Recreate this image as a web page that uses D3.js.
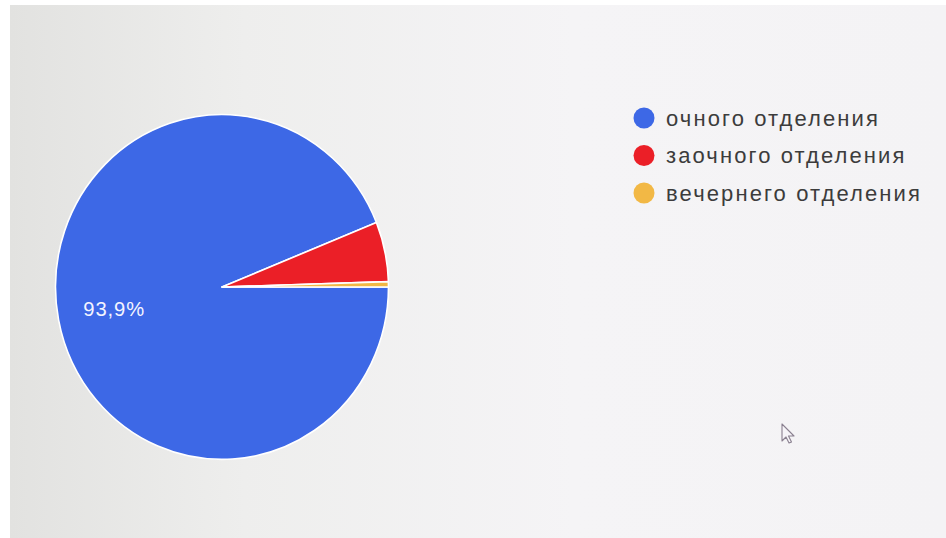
<!DOCTYPE html>
<html><head><meta charset="utf-8">
<script src="https://cdn.jsdelivr.net/npm/d3@7"></script>
<style>html,body{margin:0;padding:0;background:#fff;}svg{display:block;}</style>
</head><body>
<svg id="c" width="946" height="538"></svg>
<script>
const categories = ["очного отделения", "заочного отделения", "вечернего отделения"];
const values = [93.9, 5.6, 0.5];
const colors = ["#3d68e6", "#eb1f27", "#f2b845"];
const labelTexts = ["93,9%", "", ""];

const svg = d3.select("#c");
const W = 946, H = 538;
const defs = svg.append("defs");
const g1 = defs.append("linearGradient").attr("id","bg").attr("x1","0").attr("x2","1").attr("y1","0").attr("y2","0");
g1.append("stop").attr("offset","0").attr("stop-color","#e2e2e0");
g1.append("stop").attr("offset","0.25").attr("stop-color","#eeeeed");
g1.append("stop").attr("offset","0.6").attr("stop-color","#f5f4f6");
g1.append("stop").attr("offset","1").attr("stop-color","#f4f3f5");
svg.append("rect").attr("width",W).attr("height",H).attr("fill","#fff");
svg.append("rect").attr("x",10).attr("y",5).attr("width",W-10).attr("height",H-5).attr("fill","url(#bg)");

const cx = 222, cy = 287, r = 169;
const pie = d3.pie().sort(null).value(d => d)
  .startAngle(Math.PI/2).endAngle(Math.PI/2 + 2*Math.PI);
const arcs = pie(values);
const arc = d3.arc().innerRadius(0).outerRadius(r);
const labelArc = d3.arc().innerRadius(r*0.66).outerRadius(r*0.66);
const gp = svg.append("g").attr("transform",`translate(${cx},${cy}) scale(0.985,1.02)`);
gp.selectAll("path").data(arcs).join("path")
  .attr("d", arc).attr("fill",(d,i)=>colors[i])
  .attr("stroke","#fff").attr("stroke-width",1.6).attr("stroke-linejoin","round");
gp.selectAll("text").data(arcs).join("text")
  .attr("transform", d => `translate(${labelArc.centroid(d)})`)
  .attr("text-anchor","middle").attr("dy","0.35em")
  .attr("fill","#f4f4ff").attr("font-family","'Liberation Sans', Arial, sans-serif").attr("font-size",20.5)
  .attr("letter-spacing","0.9")
  .text((d,i)=>labelTexts[i]);

const y = d3.scalePoint().domain(categories).range([118, 193]);
const lg = svg.append("g");
categories.forEach((c,i)=>{
  lg.append("circle").attr("cx",644).attr("cy",y(c)).attr("r",10.5).attr("fill",colors[i]);
  lg.append("text").attr("x",666).attr("y",y(c)).attr("dy","0.35em")
    .attr("font-family","'Liberation Sans', Arial, sans-serif").attr("font-size",22)
    .attr("fill","#3c3c3c").attr("letter-spacing","2.1").text(c);
});

// mouse cursor
svg.append("path").attr("transform","translate(782,424)")
  .attr("d","M0,0 L0,17 L4,13 L7,19 L9.5,18 L6.5,12 L12,12 Z")
  .attr("fill","#f6f4f8").attr("stroke","#8a8090").attr("stroke-width",1.1).attr("stroke-linejoin","round");
</script>
</body></html>
